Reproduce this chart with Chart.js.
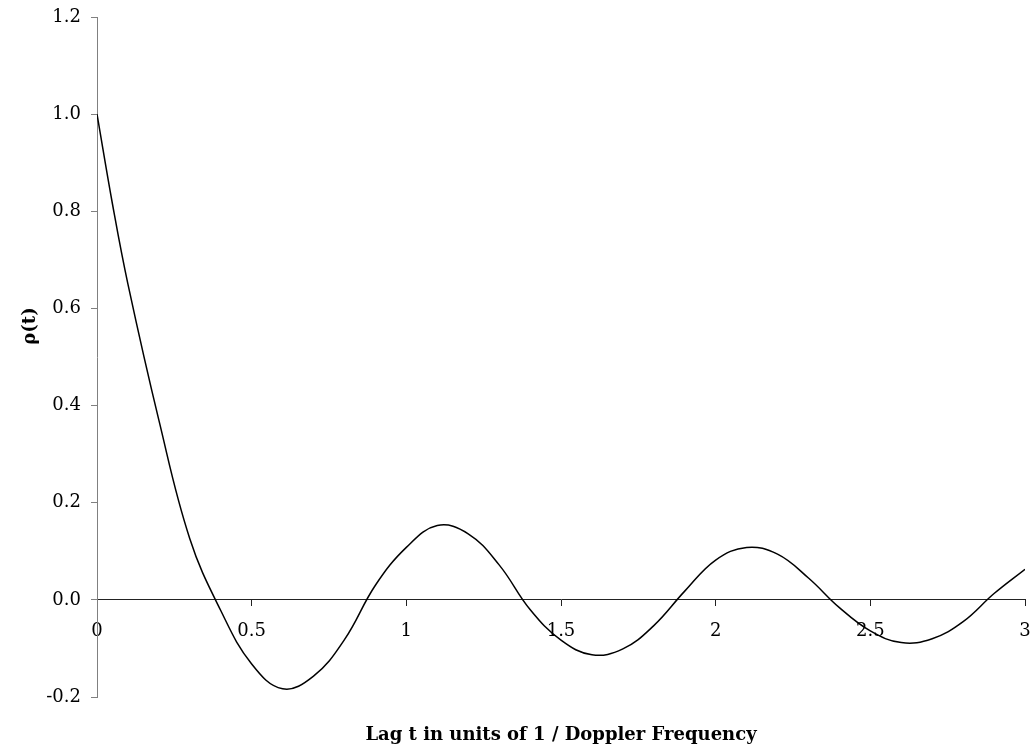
<!DOCTYPE html>
<html>
<head>
<meta charset="utf-8">
<script src="https://cdn.jsdelivr.net/npm/chart.js@4"></script>
<style>
  html, body { margin: 0; padding: 0; background: #fff; }
  #wrap { width: 1036px; height: 746px; }
</style>
</head>
<body>
<div id="wrap"><canvas id="rhoChart"></canvas></div>
<script>
// values
const lagValues = [0, 0.05, 0.1, 0.2, 0.3, 0.4, 0.5, 0.6, 0.7, 0.8, 0.9, 1.0,
  1.1, 1.2, 1.3, 1.4, 1.5, 1.6, 1.7, 1.8, 1.9, 2.0,
  2.1, 2.2, 2.3, 2.4, 2.5, 2.6, 2.7, 2.8, 2.9, 3.0];
const rhoValues = [1.0, 0.815, 0.65, 0.37, 0.126, -0.022, -0.132, -0.183, -0.157, -0.082, 0.03, 0.108,
  0.153, 0.136, 0.072, -0.02, -0.083, -0.113, -0.101, -0.053, 0.018, 0.082,
  0.108, 0.094, 0.045, -0.016, -0.064, -0.088, -0.08, -0.045, 0.013, 0.063];
const xTitle = 'Lag t in units of 1 / Doppler Frequency';
const yTitle = 'ρ(t)';

const font = 'DejaVu Serif';

// axis titles drawn by hand so they land where the original has them
const titlesPlugin = {
    id: 'titles',
    afterDraw(chart) {
        const ctx = chart.ctx;
        const area = chart.chartArea;
        ctx.save();
        ctx.fillStyle = '#000';
        ctx.font = 'bold 18px "' + font + '"';
        ctx.textAlign = 'center';
        ctx.textBaseline = 'middle';
        ctx.fillText(xTitle, (area.left + area.right) / 2, 735);
        ctx.translate(30, 326);
        ctx.rotate(-Math.PI / 2);
        ctx.fillText(yTitle, 0, 0);
        ctx.restore();
    }
};

const points = lagValues.map((t, i) => ({ x: t, y: rhoValues[i] }));

new Chart(document.getElementById('rhoChart'), {
    type: 'line',
    data: {
        datasets: [{
            data: points,
            borderColor: '#000',
            borderWidth: 1.5,
            pointRadius: 0,
            tension: 0.4,
            fill: false
        }]
    },
    options: {
        responsive: true,
        maintainAspectRatio: false,
        animation: false,
        layout: { padding: { left: 0, top: 17, right: 11, bottom: 49 } },
        plugins: {
            legend: { display: false },
            tooltip: { enabled: false }
        },
        scales: {
            x: {
                type: 'linear',
                position: { y: 0 },
                min: 0,
                max: 3,
                afterFit(scale) {
                    scale.height = 0;
                    scale.paddingLeft = 0;
                    scale.paddingRight = 0;
                },
                ticks: {
                    stepSize: 0.5,
                    color: '#000',
                    padding: 15,
                    font: { family: font, size: 18 },
                    callback: v => String(Math.round(v * 10) / 10)
                },
                grid: { drawOnChartArea: false, tickLength: 6, tickColor: '#222' },
                border: { color: '#222', width: 1 }
            },
            y: {
                min: -0.2,
                max: 1.2,
                afterFit(scale) {
                    scale.width = 97;
                    scale.paddingTop = 0;
                    scale.paddingBottom = 0;
                },
                ticks: {
                    stepSize: 0.2,
                    color: '#000',
                    padding: 10,
                    font: { family: font, size: 18 },
                    callback: v => (Math.abs(v) < 1e-9 ? 0 : v).toFixed(1)
                },
                grid: { drawOnChartArea: false, tickLength: 6, tickColor: '#808080' },
                border: { color: '#808080', width: 1 }
            }
        }
    },
    plugins: [titlesPlugin]
});
</script>
</body>
</html>
